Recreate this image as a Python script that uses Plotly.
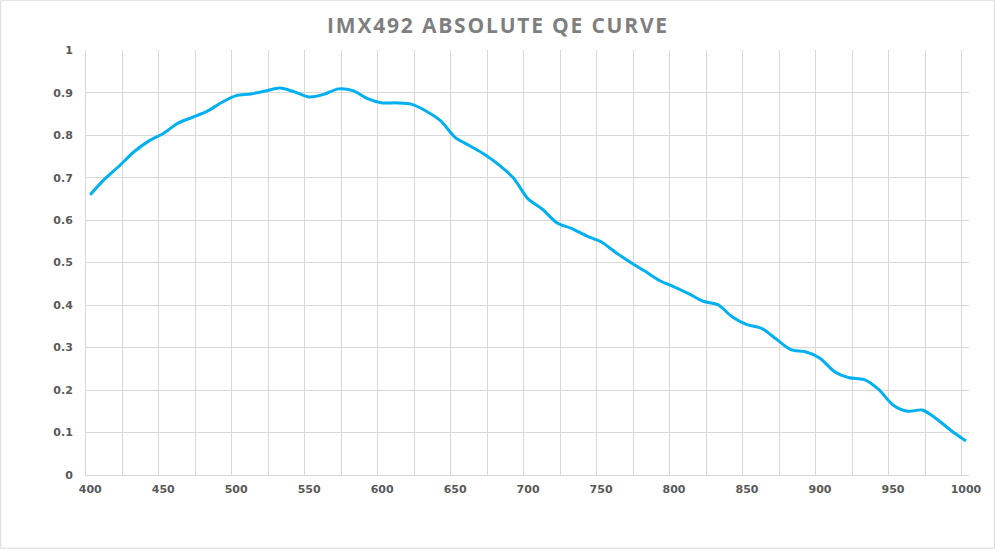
import plotly.graph_objects as go

# wavelength (nm) and absolute QE
wavelength = [400, 410, 420, 430, 440, 450, 460, 470, 480, 490,
              500, 510, 520, 530, 540, 550, 560, 570, 580, 590,
              600, 610, 620, 630, 640, 650, 660, 670, 680, 690,
              700, 710, 720, 730, 740, 750, 760, 770, 780, 790,
              800, 810, 820, 830, 840, 850, 860, 870, 880, 890,
              900, 910, 920, 930, 940, 950, 960, 970, 980, 990, 1000]
qe = [0.660, 0.697, 0.728, 0.761, 0.786, 0.804, 0.828, 0.842, 0.856, 0.877,
      0.893, 0.897, 0.904, 0.911, 0.902, 0.890, 0.896, 0.909, 0.905, 0.886,
      0.876, 0.876, 0.873, 0.857, 0.834, 0.795, 0.775, 0.755, 0.730, 0.699,
      0.650, 0.625, 0.593, 0.580, 0.563, 0.549, 0.524, 0.501, 0.480, 0.458,
      0.443, 0.427, 0.409, 0.401, 0.372, 0.354, 0.345, 0.320, 0.295, 0.290,
      0.275, 0.243, 0.229, 0.225, 0.202, 0.165, 0.150, 0.153, 0.132, 0.104, 0.080]

x_labels = list(range(400, 1001, 50))
y_ticks = [0, 0.1, 0.2, 0.3, 0.4, 0.5, 0.6, 0.7, 0.8, 0.9, 1]
y_labels = ['0', '0.1', '0.2', '0.3', '0.4', '0.5', '0.6', '0.7', '0.8', '0.9', '1']

grid = '#d9d9d9'
tick_font = dict(family='DejaVu Sans', size=11, color='#595959', weight='bold')

fig = go.Figure()
fig.add_trace(go.Scatter(
    x=wavelength, y=qe, mode='lines',
    line=dict(color='#00B0F0', width=3, shape='spline', smoothing=0.8),
    showlegend=False
))

# Excel-style gridlines sit between categories, a little left of the labels
x_grid = [397.1 + 25 * i for i in range(25)]

fig.update_layout(
    width=996, height=550,
    margin=dict(l=86, r=27, t=50, b=75),
    paper_bgcolor='white', plot_bgcolor='white',
    title=dict(text='<b>IMX492 ABSOLUTE QE CURVE</b>', x=0.5, xanchor='center',
               y=1 - 26 / 550, yanchor='middle', yref='container',
               font=dict(family='Open Sans', size=21, color='#7f7f7f')),
    xaxis=dict(range=[397.1, 1002.1], tickvals=x_labels, ticktext=[str(v) for v in x_labels],
               showgrid=False, zeroline=False, showline=True, linecolor=grid, linewidth=1,
               ticks='', tickfont=tick_font, ticklabelstandoff=4,
               minor=dict(tickvals=x_grid, showgrid=True, gridcolor=grid, gridwidth=1, ticks='')),
    yaxis=dict(range=[0, 1.0005], tickvals=y_ticks, ticktext=y_labels,
               showgrid=True, gridcolor=grid, gridwidth=1, zeroline=False,
               showline=True, linecolor=grid, linewidth=1,
               ticks='', tickfont=tick_font, ticklabelstandoff=10),
    shapes=[dict(type='rect', xref='paper', yref='paper',
                 x0=-0.0966, x1=1.0287, y0=-0.1722, y1=1.1172,
                 line=dict(color=grid, width=1), fillcolor='rgba(0,0,0,0)', layer='below')],
)

# no page margin around the figure, and spaced-out title letters as in the original
js = ("document.body.style.margin='0px';"
      "document.querySelectorAll('.gtitle').forEach(function(t){t.style.letterSpacing='1.8px';});")
fig.write_html('out.html', post_script=js, config={'displayModeBar': False})
